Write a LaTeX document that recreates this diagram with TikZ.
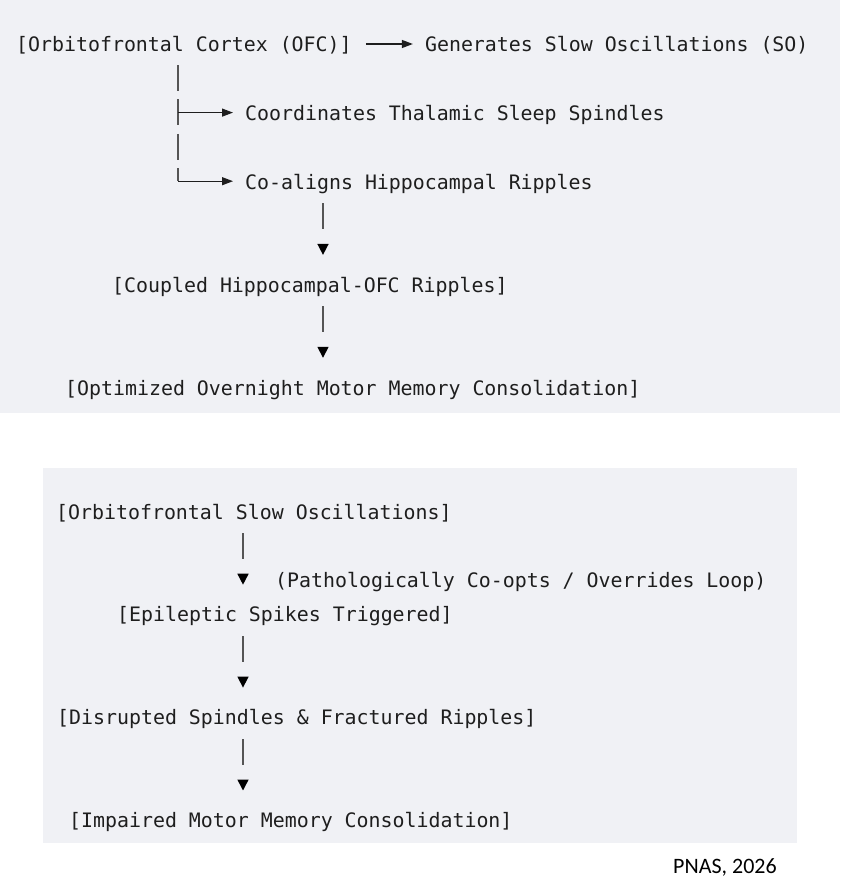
\documentclass[tikz,border=0pt]{standalone}
\usepackage{fontspec}
\setmonofont{DejaVu Sans Mono}
\newfontfamily\notefont{Carlito}
\usetikzlibrary{arrows.meta,positioning}
\definecolor{panel}{RGB}{240,241,245}
\definecolor{ink}{RGB}{30,30,30}
\definecolor{rule}{RGB}{85,85,85}

\begin{document}
\begin{tikzpicture}[x=1pt,y=-1pt,
	line/.style={font=\ttfamily\fontsize{19.9}{24}\selectfont,text=ink,anchor=west,inner sep=0pt,text height=18pt,text depth=2pt},
	flow/.style={draw=ink,line width=1.2pt,-{Triangle[length=11pt,width=8pt]},shorten >=12pt},
	trunk/.style={draw=rule,line width=1.5pt,dash pattern=on 26pt off 8.3pt,shorten <=11pt},
	down/.style={draw=rule,line width=1.5pt,dash pattern=on 25.5pt off 200pt,shorten <=12pt,shorten >=19pt,-{Triangle[length=11pt,width=11pt,black]}}]
		
		\useasboundingbox (0,0) rectangle (840,893);
		\fill[panel] (0,0) rectangle (840,413);
		\fill[panel] (43,468) rectangle (797,843);
		
		\node[line] (ofc) at (16,44) {[Orbitofrontal Cortex (OFC)]};
		\node[line,right=73pt of ofc] (gen) {Generates Slow Oscillations (SO)};
		\node[line] (thal) at (245,112.6) {Coordinates Thalamic Sleep Spindles};
		\node[line] (coal) at (245,181.2) {Co-aligns Hippocampal Ripples};
		\node[line] (coup) at (112,284.1) {[Coupled Hippocampal-OFC Ripples]};
		\node[line] (opt) at (65,387) {[Optimized Overnight Motor Memory Consolidation]};
		
		\coordinate (t0) at ([xshift=162pt]ofc.south west);
		\coordinate (d1) at ([xshift=78pt]coal.south west);
		\draw[flow,shorten <=14pt] (ofc) -- (gen);
		\draw[trunk] (t0) -- (t0 |- coal.west);
		\draw[flow] (t0 |- thal.west) -- (thal.west);
		\draw[flow] (t0 |- coal.west) -- (coal.west);
		\draw[down] (d1) -- (d1 |- coup.north);
		\draw[down] (d1 |- coup.south) -- (d1 |- opt.north);
		
		\node[line] (slow) at (56,511) {[Orbitofrontal Slow Oscillations]};
		\node[line] (loop) at (275,579.6) {(Pathologically Co-opts / Overrides Loop)};
		\node[line] (epi) at (117,613.9) {[Epileptic Spikes Triggered]};
		\node[line] (dis) at (57,716.8) {[Disrupted Spindles \& Fractured Ripples]};
		\node[line] (imp) at (69,819.7) {[Impaired Motor Memory Consolidation]};
		
		\coordinate (d2) at ([xshift=187pt]slow.south west);
		\draw[down] (d2) -- (d2 |- epi.north);
		\draw[down] (d2 |- epi.south) -- (d2 |- dis.north);
		\draw[down] (d2 |- dis.south) -- (d2 |- imp.north);
		
		\node[font=\notefont\fontsize{22}{26}\selectfont,text=black,anchor=base west,inner sep=0pt] (src) at (673,873) {PNAS, 2026};
		
		\end{tikzpicture}
\end{document}
